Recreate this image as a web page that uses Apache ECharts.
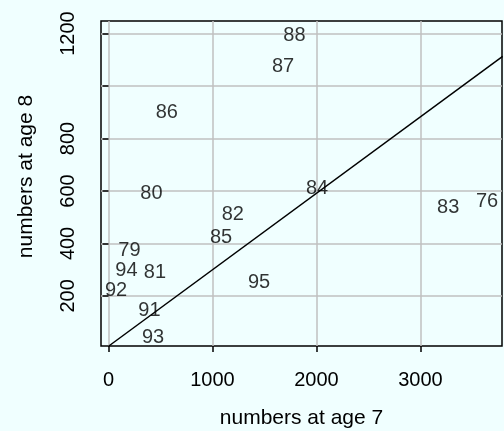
<!DOCTYPE html>
<html>
<head>
<meta charset="utf-8">
<script src="https://cdn.jsdelivr.net/npm/echarts@6/dist/echarts.min.js"></script>
<style>
html,body{margin:0;padding:0;background:#F0FFFF;}
#chart{width:504px;height:431px;}
</style>
</head>
<body>
<div id="chart"></div>
<script>
var years = ['76','79','80','81','82','83','84','85','86','87','88','91','92','93','94','95'];
var age7  = [3640, 202, 413, 447, 1195, 3266, 2006, 1082, 561, 1679, 1788, 394, 73, 429, 173, 1448];
var age8  = [559, 375, 591, 291, 512, 538, 608, 421, 901, 1074, 1192, 144, 220, 41, 295, 251];
var xTicks = [0, 1000, 2000, 3000];
var yTicks = [200, 400, 600, 800, 1000, 1200];
var yHiddenLabels = [1000];
var lineX = [0, 3790];
var lineY = [8, 1113];

var font = '"Liberation Sans", Arial, sans-serif';
var chart = echarts.init(document.getElementById('chart'), null, {renderer: 'canvas'});
chart.setOption({
  backgroundColor: '#F0FFFF',
  animation: false,
  grid: {left: 101, right: 2, top: 21, bottom: 85, show: true, borderColor: '#000', borderWidth: 1.5,
    containLabel: false, outerBoundsMode: 'none'},
  xAxis: {
    type: 'value', min: -72, max: 3784,
    name: 'numbers at age 7', nameLocation: 'middle', nameGap: 62,
    nameTextStyle: {fontFamily: font, fontSize: 21, color: '#000'},
    axisLine: {show: false},
    axisTick: {show: true, length: 6, inside: false, customValues: xTicks, lineStyle: {color: '#000', width: 1.5}},
    axisLabel: {customValues: xTicks, margin: 24, fontFamily: font, fontSize: 20, color: '#000',
      formatter: function (v) { return String(v); }},
    splitLine: {show: true, lineStyle: {color: '#C0C0C0', width: 1.5}}
  },
  yAxis: {
    type: 'value', min: 9, max: 1248,
    name: 'numbers at age 8', nameLocation: 'middle', nameGap: 64,
    nameTextStyle: {fontFamily: font, fontSize: 21, color: '#000', padding: [0, 0, 0, 14]},
    axisLine: {show: false},
    axisTick: {show: true, length: 6, inside: false, customValues: yTicks, lineStyle: {color: '#000', width: 1.5}},
    axisLabel: {customValues: yTicks, rotate: 90, margin: 23, fontFamily: font, fontSize: 20, color: '#000',
      formatter: function (v) { return yHiddenLabels.indexOf(v) >= 0 ? '' : String(v); }},
    splitLine: {show: true, lineStyle: {color: '#C0C0C0', width: 1.5}}
  },
  series: [
    {
      type: 'line', data: lineX.map(function (x, i) { return [x, lineY[i]]; }),
      showSymbol: false, symbol: 'none', clip: true,
      lineStyle: {color: '#000', width: 1.5}, z: 3
    },
    {
      type: 'scatter', symbolSize: 0,
      data: years.map(function (y, i) { return {value: [age7[i], age8[i]], name: y}; }),
      label: {show: true, position: 'inside', formatter: '{b}', fontFamily: font, fontSize: 20, color: '#000'},
      z: 4
    }
  ]
});
</script>
</body>
</html>
